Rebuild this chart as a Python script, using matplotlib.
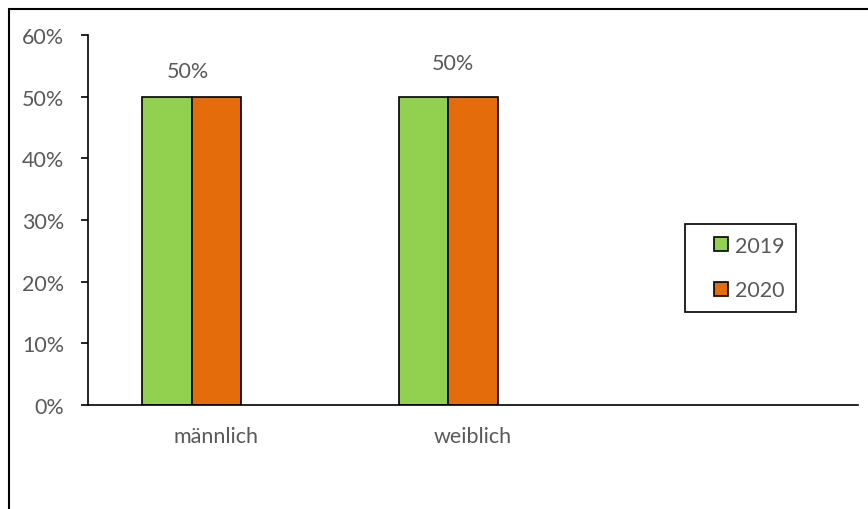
"""Gender split bar chart, 2019 vs 2020."""

import matplotlib.pyplot as plt
import numpy as np
from matplotlib.lines import Line2D
from matplotlib.patches import Rectangle
from matplotlib.ticker import PercentFormatter

categories = ["männlich", "weiblich", ""]
years = ["2019", "2020"]
share_2019 = [0.50, 0.50]
share_2020 = [0.50, 0.50]
# one value label per group, placed a little above the bars
label_offsets = [(-0.11, 0.042), (-0.08, 0.054)]

GREEN = "#92D050"
ORANGE = "#E46C0A"
TEXT = "#595959"
FS = 15.5

plt.rcParams["font.family"] = ["Lato", "DejaVu Sans"]

fig = plt.figure(figsize=(8.68, 5.10), dpi=100)
ax = fig.add_axes([88 / 868, 104 / 510, 770 / 868, 370 / 510])

width = 0.193
x = np.arange(len(categories))
ax.bar(x[:2] - width, share_2019, width, color=GREEN, edgecolor="black", linewidth=1.2)
ax.bar(x[:2], share_2020, width, color=ORANGE, edgecolor="black", linewidth=1.2)

for i, (dx, dy) in enumerate(label_offsets):
    ax.text(i + dx, share_2019[i] + dy, f"{share_2019[i]:.0%}", ha="center", va="center",
            fontsize=FS, color=TEXT)

ax.set_xlim(-0.5, 2.5)
ax.set_ylim(0, 0.6)
ax.set_yticks(np.arange(0, 0.61, 0.1))
ax.yaxis.set_major_formatter(PercentFormatter(1.0, decimals=0))
ax.set_xticks(x)
ax.set_xticklabels(categories)

ax.spines["top"].set_visible(False)
ax.spines["right"].set_visible(False)
ax.spines["left"].set_linewidth(1.2)
ax.spines["bottom"].set_linewidth(1.2)
ax.tick_params(axis="y", length=5, width=1.2, pad=12, labelsize=FS, labelcolor=TEXT)
ax.tick_params(axis="x", length=0, pad=15, labelsize=FS, labelcolor=TEXT)

# square markers as legend keys, so the key sits inset from the frame
handles = [Line2D([], [], linestyle="none", marker="s", markersize=9.4, markerfacecolor=c,
                  markeredgecolor="black", markeredgewidth=1.2) for c in (GREEN, ORANGE)]
leg = ax.legend(handles, years, loc="center", bbox_to_anchor=(0.848, 0.370), fontsize=FS,
                labelcolor=TEXT, frameon=True, fancybox=False, framealpha=1,
                handlelength=2.2, handletextpad=-0.45, labelspacing=1.15, borderpad=0.55,
                borderaxespad=0)
leg.get_frame().set_edgecolor("black")
leg.get_frame().set_linewidth(1.2)
leg.get_frame().set_boxstyle("square", pad=0.0)

# chart area frame
fig.patches.append(Rectangle((9 / 868, -0.02), 1.0, 500 / 510 + 0.02, transform=fig.transFigure,
                             fill=False, edgecolor="black", linewidth=1.5))

fig.savefig("out.png", dpi=100)
